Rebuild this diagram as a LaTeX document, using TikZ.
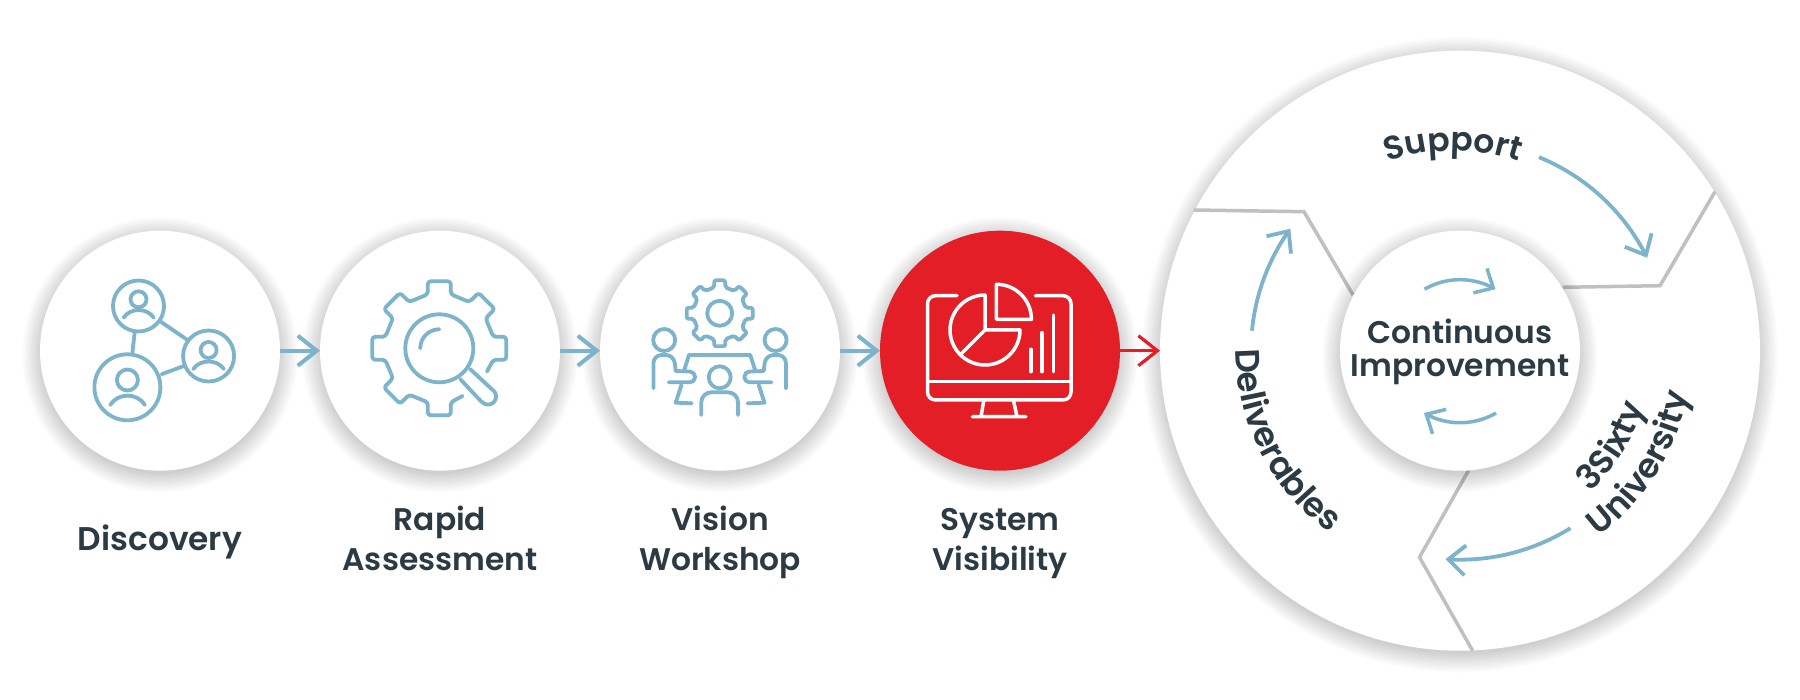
\documentclass[tikz,border=0pt]{standalone}
\usepackage{fontspec}
\setmainfont{Poppins SemiBold}
\newfontfamily\labfont{Poppins SemiBold}
\usetikzlibrary{arrows.meta,decorations.text}
\definecolor{ink}{HTML}{2B3A43}
\definecolor{sky}{HTML}{7DB3CB}
\definecolor{flame}{HTML}{E41E26}
\definecolor{rule}{HTML}{BEC0C2}
\newcommand\lab{\labfont\fontsize{31.3}{33}\selectfont\color{ink}}
\newcommand\labd{\labfont\fontsize{32.8}{33}\selectfont\color{ink}}
\newcommand\labs{\labfont\fontsize{33}{33}\selectfont\color{ink}}
\newcommand\labc{\labfont\fontsize{34}{34}\selectfont\color{ink}}
\newcommand\softshadow[3]{\foreach \i in {1,...,12}{\fill[black,opacity=.015] (#1,#2+4) circle[radius={#3-3+\i*1.7}];}}
% arc of centre (#1,#2) radius #3 from angle #4 to #5 (y axis points down)
\newcommand\parc[5]{plot[domain=#4:#5,samples=40,variable=\t] ({#1+#3*cos(\t)},{#2+#3*sin(\t)})}
% gear: centre #1,#2; outer R #3; body r #4; half tooth #5; teeth list #6
\newcommand\gearteeth[6]{\foreach \a in {#6}{ -- ({#1+#4*cos(\a)+#5*sin(\a)},{#2+#4*sin(\a)-#5*cos(\a)}) -- ({#1+#3*cos(\a)+#5*sin(\a)},{#2+#3*sin(\a)-#5*cos(\a)}) -- ({#1+#3*cos(\a)-#5*sin(\a)},{#2+#3*sin(\a)+#5*cos(\a)}) -- ({#1+#4*cos(\a)-#5*sin(\a)},{#2+#4*sin(\a)+#5*cos(\a)})}}
\tikzset{
 disc/.style={circle,fill=white,minimum size=240pt,inner sep=0,outer sep=0},
 bigdisc/.style={circle,fill=white,minimum size=600pt,inner sep=0,outer sep=0},
 redisc/.style={disc,fill=flame},
 flow/.style={draw=sky,line width=4pt,-{Straight Barb[length=19pt,width=30pt]}},
 flowred/.style={draw=flame,line width=3.2pt,-{Straight Barb[length=19pt,width=30pt]}},
 curve/.style={draw=sky,line width=3.8pt,-{Straight Barb[length=17pt,width=30pt]}},
 smallcurve/.style={draw=sky,line width=3.5pt,-{Straight Barb[length=15pt,width=28pt]}},
 divider/.style={draw=rule,line width=3.5pt,line join=miter},
 icon/.style={draw=sky,line width=3.8pt,line cap=round,line join=round},
 wicon/.style={draw=white,line width=3.5pt,line cap=round,line join=round},
 label/.style={align=center,font=\lab,text=ink,inner sep=0,outer sep=0},
}
\begin{document}
\begin{tikzpicture}[x=1pt,y=-1pt]
\useasboundingbox (0,0) rectangle (1800,700);
\fill[white] (0,0) rectangle (1800,700);
% shadows
\softshadow{160}{350.7}{120}
\softshadow{440}{350.7}{120}
\softshadow{720}{350.7}{120}
\softshadow{1000}{350.7}{120}
\softshadow{1460}{350.7}{300}
% discs
\node[disc] (c1) at (160,350.7) {};
\node[disc] (c2) at (440,350.7) {};
\node[disc] (c3) at (720,350.7) {};
\node[redisc] (c4) at (1000,350.7) {};
\node[bigdisc] (big) at (1460,350.7) {};
% flow arrows
\draw[flow] (c1) -- (c2);
\draw[flow] (c2) -- (c3);
\draw[flow] (c3) -- (c4);
\draw[flowred] (c4) -- (big);
% dividers
\draw[divider] (1193.5,210) -- (1304,211.7) -- (1353,295);
\draw[divider] (1715,191.7) -- (1660,285.7) -- (1562.5,287.3);
\draw[divider] (1468.4,470.7) -- (1419.5,557.3) -- (1472.6,650.7);
% inner
\softshadow{1460}{350.7}{120}
\node[disc] (inner) at (1460,350.7) {};
\node[label] (lci) at (1460,352) {Continuous\\Improvement};
% ring arrows
\draw[curve] \parc{1460}{350.7}{209}{-67.8}{-26.4};
\draw[curve] \parc{1460}{350.7}{209}{-174.5}{-144.3};
\draw[curve] \parc{1460}{350.7}{209}{58.1}{94};
\draw[smallcurve] \parc{1460}{350.7}{71}{-120}{-60};
\draw[smallcurve] \parc{1460}{350.7}{72}{60}{120};
% curved labels
\path[decorate,decoration={text along path,text align=center,text={|\labs|Support}}] \parc{1453}{350.7}{200}{-130}{-50};
\path[decorate,decoration={text along path,text align=center,text={|\labc|Deliverables}}] \parc{1460}{350.7}{224}{-147}{-267};
\path[decorate,decoration={text along path,text align=center,text={|\labc|3Sixty}}] \parc{1460}{350.7}{192}{72}{-8};
\path[decorate,decoration={text along path,text align=center,text={|\labc|University}}] \parc{1460}{350.7}{232}{72}{-8};
% bottom labels
\node[label,font=\labd,anchor=base] (l1) at (160,550) {Discovery};
\node[label,anchor=base] (l2a) at (440,530) {Rapid};
\node[label,anchor=base] (l2b) at (440,570) {Assessment};
\node[label,anchor=base] (l3a) at (720,530) {Vision};
\node[label,anchor=base] (l3b) at (720,570) {Workshop};
\node[label,anchor=base] (l4a) at (1000,530) {System};
\node[label,anchor=base] (l4b) at (1000,570) {Visibility};
% icon 1
\draw[icon] (138.5,306) circle[radius=25.5];
\draw[icon] (208.6,356) circle[radius=25.5];
\draw[icon] (127.4,387.3) circle[radius=33];
\draw[icon] (160.7,321.7) -- (187.5,340) (134.7,332.3) -- (132.4,352.7) (161.5,374.3) -- (184.5,365.7);
\draw[icon] (138.5,299.3) circle[radius=8] (208.6,350) circle[radius=8] (127.4,380) circle[radius=10.5];
\draw[icon] (123.6,317.7) .. controls (130,307.5) and (147,307.5) .. (153.8,317.7);
\draw[icon] (193.3,369) .. controls (200,359) and (217,359) .. (223.9,369);
\draw[icon] (110.2,405) .. controls (118,392.5) and (137,392.5) .. (145,405);
% icon 2
\draw[icon,rounded corners=3pt] ({439.3+53*cos(64)},{348.3+53*sin(64)}) \gearteeth{439.3}{348.3}{67}{54}{11.5}{90,135,180,225,270,315,360} -- ({439.3+53*cos(26)},{348.3+53*sin(26)});
\draw[icon] (439.3,348.3) circle[radius=34];
\draw[icon] \parc{439.3}{348.3}{19}{180}{270};
\draw[icon] (460.4,379.3) -- (481.4,401.7) -- plot[domain=135:-45,samples=30,variable=\t] ({488+8*cos(\t)},{396.5+8*sin(\t)}) -- (470,369);
% icon 3
\draw[icon,rounded corners=2pt] ({719.7+26*cos(-22.5)},{313.3+26*sin(-22.5)}) \gearteeth{719.7}{313.3}{33}{26}{5.5}{0,45,90,135,180,225,270,315} -- cycle;
\draw[icon] (719.7,313.3) circle[radius=12.5];
\draw[icon] (664.2,340) circle[radius=11] (775.6,340) circle[radius=11] (719.7,377.3) circle[radius=11];
\draw[icon] (681.4,385) -- (675.7,402.7) -- (691.7,403.3);
\draw[icon] (684,370.7) -- (689,355) -- (750.3,355) -- (755.3,370.7);
\draw[icon] (758.7,385) -- (764.5,402.7) -- (747.6,403.3);
\draw[icon,rounded corners=10pt] (701.3,415) -- (701.3,392.3) -- (738,392.3) -- (738,415);
\draw[icon,rounded corners=8pt] (653.5,388.3) -- (653.5,355) -- (673.8,355) -- (675.7,371);
\draw[icon,rounded corners=5pt] (675.7,371) -- (695,371.7) -- (695,382.3) -- (668.8,382.3);
\draw[icon,rounded corners=8pt] (785.9,388.3) -- (785.9,355) -- (765.6,355) -- (763.7,371);
\draw[icon,rounded corners=5pt] (763.7,371) -- (744.4,371.7) -- (744.4,382.3) -- (771.4,382.3);
% icon 4
\draw[wicon,rounded corners=8pt] (957,295.7) -- (927.5,295.7) -- (927.5,400) -- (1071,400) -- (1071,295.7) -- (1035.4,295.7);
\draw[wicon] (927.5,381.7) -- (1071,381.7);
\draw[wicon] (983.7,401) -- (981,416.7) (1013.6,401) -- (1017,416.7) (972.3,416.7) -- (1025.8,416.7);
\draw[wicon] \parc{985}{330}{35}{270}{0} -- (985,330) -- cycle;
\draw[wicon] (985,330) -- (960.3,354.7);
\draw[wicon] (996.4,319.3) -- plot[domain=270:360,samples=30,variable=\t] ({996.4+35*cos(\t)},{319.3+35*sin(\t)}) -- cycle;
\draw[wicon] (1030.8,349.3) -- (1030.8,371.7) (1042,332.7) -- (1042,371.7) (1053.4,315) -- (1053.4,371.7);
\end{tikzpicture}
\end{document}
